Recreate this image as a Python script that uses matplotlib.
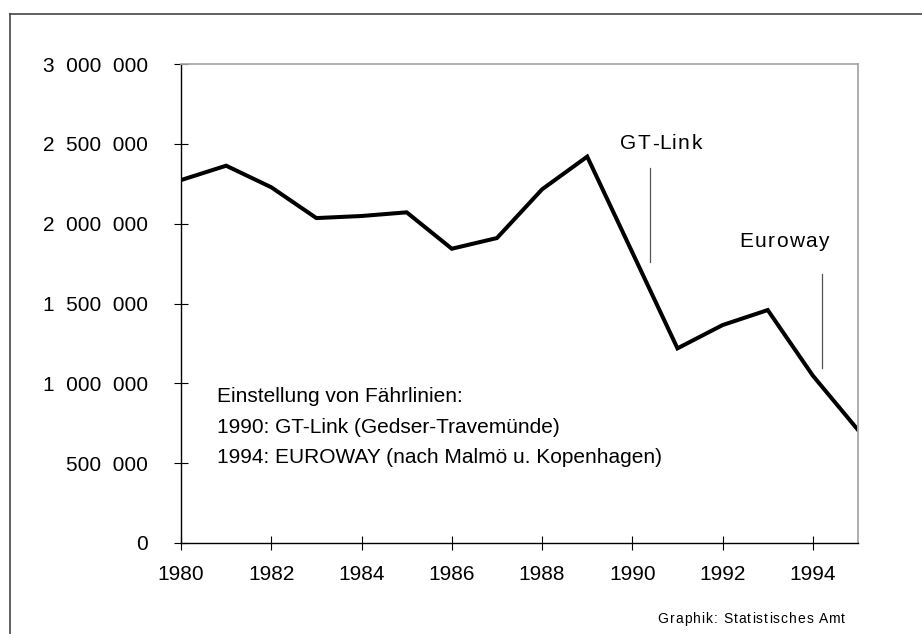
import matplotlib
matplotlib.use("Agg")
import matplotlib.pyplot as plt
from matplotlib.lines import Line2D
from matplotlib.transforms import offset_copy
from matplotlib.font_manager import FontProperties

plt.rcParams['font.family'] = ['Liberation Sans', 'DejaVu Sans']

years = list(range(1980, 1996))
passengers = [2273000, 2363000, 2228000, 2035000, 2048000, 2071000, 1843000, 1910000,
              2215000, 2420000, 1820000, 1219000, 1365000, 1459000, 1048000, 708000]
xticks = [1980, 1982, 1984, 1986, 1988, 1990, 1992, 1994]
yticks = [0, 500000, 1000000, 1500000, 2000000, 2500000, 3000000]
ytick_labels = ["0", "500  000", "1  000  000", "1  500  000",
                "2  000  000", "2  500  000", "3  000  000"]
note_lines = ["Einstellung von Fährlinien:",
              "1990: GT-Link (Gedser-Travemünde)",
              "1994: EUROWAY (nach Malmö u. Kopenhagen)"]

W, H = 922, 634
fig = plt.figure(figsize=(W / 100, H / 100), dpi=100)
ax = fig.add_axes([181 / W, 1 - 543 / H, (858 - 181) / W, (543 - 64) / H])
renderer = fig.canvas.get_renderer()


def text_width(s, size):
    t = fig.text(0, 0, s + "x", fontsize=size)
    w = t.get_window_extent(renderer=renderer).width
    t.remove()
    t2 = fig.text(0, 0, "x", fontsize=size)
    w2 = t2.get_window_extent(renderer=renderer).width
    t2.remove()
    return w - w2


def tracked(x, y, s, transform, size, track_px, align='left'):
    total = text_width(s, size) + track_px * (len(s) - 1)
    start = 0 if align == 'left' else -total
    for i, ch in enumerate(s):
        if ch == ' ':
            continue
        off = start + text_width(s[:i], size) + track_px * i
        tr = offset_copy(transform, fig=fig, x=off, y=0, units='dots')
        fig.text(x, y, ch, transform=tr, fontsize=size, ha='left', va='baseline')


ax.plot(years, passengers, color='black', lw=2.9, solid_joinstyle='miter')
ax.set_xlim(1980, 1995)
ax.set_ylim(0, 3000000)
ax.set_xticks(xticks)
ax.set_xticklabels([str(x) for x in xticks])
ax.set_yticks(yticks)
ax.set_yticklabels(ytick_labels)
ax.tick_params(axis='both', direction='inout', length=10, width=0.8, color='black',
               labelsize=15)
ax.tick_params(axis='x', pad=11)
ax.tick_params(axis='y', pad=19)

for s in ['left', 'bottom']:
    ax.spines[s].set_color('black')
    ax.spines[s].set_linewidth(1.0)
for s in ['top', 'right']:
    ax.spines[s].set_color('#a8a8a8')
    ax.spines[s].set_linewidth(1.3)

# annotation markers
ax.plot([1990.39, 1990.39], [1762000, 2347000], color='#555555', lw=0.9)
ax.plot([1994.21, 1994.21], [1094000, 1685000], color='#555555', lw=0.9)
tracked(1989.73, 2466000, "GT-Link", ax.transData, 15, 1.4)
tracked(1992.37, 1856000, "Euroway", ax.transData, 15, 1.3)

for txt, yb in zip(note_lines, [402, 433, 463]):
    fig.text(217 / W, 1 - yb / H, txt, fontsize=15, ha='left', va='baseline')

tracked(845 / W, 1 - 623 / H, "Graphik: Statistisches Amt", fig.transFigure, 10, 1.0,
        align='right')

# outer frame (left and top edges)
fig.add_artist(Line2D([10 / W, 10 / W], [0, 1 - 14 / H], color='#444444', lw=1.2,
                      transform=fig.transFigure))
fig.add_artist(Line2D([10 / W, 1], [1 - 14 / H, 1 - 14 / H], color='#444444', lw=1.2,
                      transform=fig.transFigure))

fig.savefig("out.png", dpi=100, facecolor='white')
